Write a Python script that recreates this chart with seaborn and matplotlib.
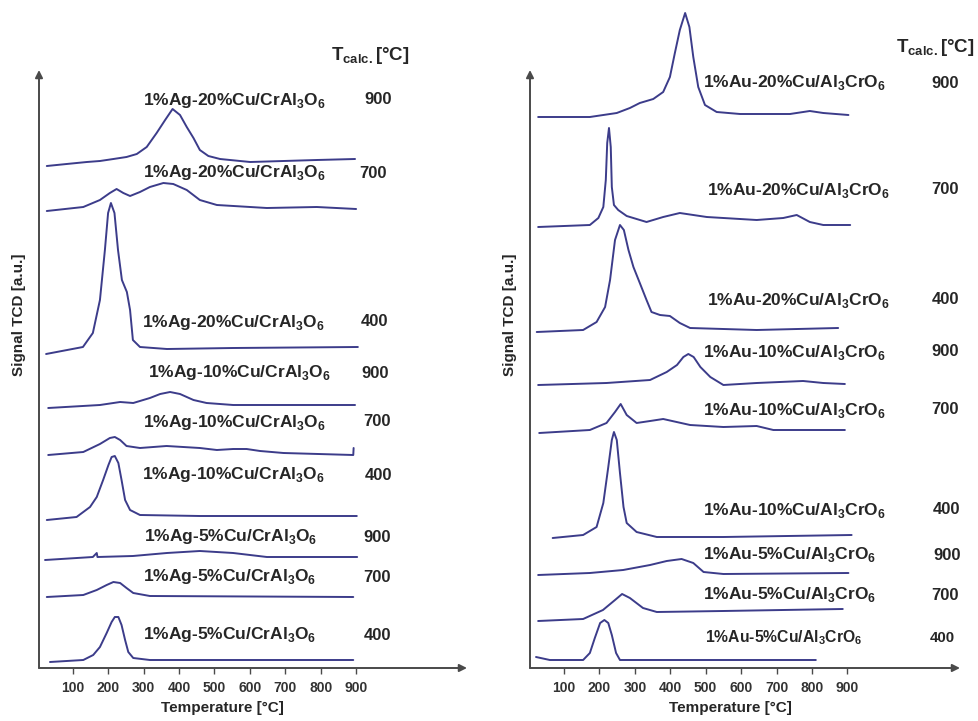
import pandas as pd
import seaborn as sns
import matplotlib.pyplot as plt

sns.set_style("white")
plt.rcParams['font.family'] = ['Liberation Sans', 'DejaVu Sans']
plt.rcParams['font.weight'] = 'bold'

LINE = '#3c3c8a'
AXC = '#4a4a4a'
TXT = '#262626'

# TPR profiles, temperature [°C] vs TCD signal [a.u.] (stacked)
ag_names = ['1%Ag-20%Cu/CrAl$_\\mathregular{3}$O$_\\mathregular{6}$'] * 3 + \
           ['1%Ag-10%Cu/CrAl$_\\mathregular{3}$O$_\\mathregular{6}$'] * 3 + \
           ['1%Ag-5%Cu/CrAl$_\\mathregular{3}$O$_\\mathregular{6}$'] * 3
ag_calc = ['900', '700', '400', '900', '700', '400', '900', '700', '400']
ag_T = [
    [27, 83, 140, 177, 215, 252, 281, 309, 337, 361, 382, 403, 422, 441, 459, 483, 516, 601, 695, 789, 897],
    [27, 130, 177, 205, 224, 243, 262, 290, 318, 356, 384, 422, 459, 507, 648, 789, 900],
    [25, 129, 157, 177, 191, 200, 208, 218, 228, 239, 253, 262, 270, 290, 366, 553, 905],
    [31, 177, 234, 271, 318, 347, 375, 403, 441, 478, 553, 897],
    [31, 130, 177, 205, 219, 234, 252, 290, 365, 459, 507, 553, 591, 629, 695, 892, 893],
    [27, 111, 149, 168, 186, 201, 210, 219, 229, 238, 248, 262, 290, 459, 902],
    [22, 157, 168, 170, 270, 366, 459, 553, 648, 903],
    [27, 130, 168, 196, 215, 234, 252, 271, 318, 892],
    [36, 130, 158, 177, 196, 210, 219, 229, 238, 248, 257, 271, 318, 892],
]
ag_S = [
    [502, 504, 506, 507, 509, 511, 514, 521, 535, 548, 559, 553, 541, 530, 518, 512, 509, 506, 507, 508, 509],
    [457, 461, 468, 475, 479, 475, 472, 476, 481, 485, 484, 478, 468, 463, 460, 461, 459],
    [314, 321, 335, 368, 418, 455, 465, 455, 418, 388, 376, 358, 328, 321, 319, 320, 321],
    [260, 263, 266, 265, 270, 274, 276, 274, 268, 265, 263, 263],
    [213, 216, 224, 230, 231, 228, 222, 220, 222, 220, 218, 219, 219, 217, 215, 213, 220],
    [148, 151, 161, 171, 188, 203, 211, 212, 205, 188, 168, 158, 153, 152, 152],
    [108, 111, 115, 111, 112, 115, 117, 115, 111, 111],
    [71, 73, 78, 83, 86, 85, 80, 75, 72, 71],
    [6, 8, 13, 21, 35, 46, 51, 51, 43, 28, 16, 10, 8, 8],
]

au_names = ['1%Au-20%Cu/Al$_\\mathregular{3}$CrO$_\\mathregular{6}$'] * 3 + \
           ['1%Au-10%Cu/Al$_\\mathregular{3}$CrO$_\\mathregular{6}$'] * 3 + \
           ['1%Au-5%Cu/Al$_\\mathregular{3}$CrO$_\\mathregular{6}$'] * 3
au_calc = ['900', '700', '400', '900', '700', '400', '900', '700', '400']
au_T = [
    [27, 173, 249, 286, 314, 352, 380, 399, 413, 427, 442, 454, 465, 479, 498, 531, 597, 738, 794, 832, 903],
    [27, 173, 197, 211, 218, 222, 227, 232, 235, 241, 253, 277, 333, 380, 427, 503, 644, 719, 757, 794, 832, 908],
    [23, 154, 192, 216, 230, 244, 258, 269, 282, 296, 314, 333, 347, 371, 399, 427, 456, 644, 874],
    [27, 220, 343, 390, 419, 437, 451, 466, 485, 513, 550, 644, 775, 832, 893],
    [30, 173, 220, 244, 260, 277, 305, 343, 380, 418, 456, 550, 644, 691, 893],
    [68, 154, 192, 211, 225, 235, 241, 249, 258, 268, 277, 305, 362, 550, 912],
    [27, 173, 267, 343, 390, 432, 465, 494, 550, 903],
    [27, 154, 210, 244, 264, 286, 323, 362, 549, 887],
    [21, 60, 154, 173, 187, 202, 214, 225, 235, 247, 258, 811],
]
au_S = [
    [551, 551, 555, 560, 565, 569, 576, 591, 615, 638, 655, 641, 611, 581, 563, 556, 554, 554, 557, 555, 553],
    [441, 443, 450, 461, 488, 525, 540, 521, 481, 463, 458, 452, 446, 451, 455, 451, 448, 450, 453, 446, 443, 443],
    [336, 338, 346, 361, 388, 428, 443, 438, 418, 401, 385, 368, 356, 353, 352, 345, 340, 338, 340],
    [283, 285, 288, 296, 303, 311, 314, 311, 301, 291, 283, 285, 287, 285, 284],
    [235, 238, 245, 256, 264, 253, 245, 247, 249, 246, 243, 241, 242, 238, 238],
    [130, 133, 141, 165, 201, 228, 236, 228, 195, 161, 145, 136, 131, 131, 133],
    [93, 95, 98, 103, 107, 109, 105, 96, 94, 95],
    [47, 49, 58, 68, 74, 70, 60, 56, 57, 59],
    [11, 8, 8, 15, 30, 45, 48, 45, 33, 15, 8, 8],
]

# where the sample names / calcination temperatures sit (data coords)
ag_lab_x = [299, 299, 296, 313, 299, 296, 301, 299, 299]
ag_lab_y = [568, 495, 346, 295, 246, 193, 131, 91, 33]
ag_num_x = [962, 948, 953, 953, 959, 962, 959, 959, 959]
au_lab_x = [492, 504, 504, 492, 492, 492, 492, 492, 498]
au_lab_y = [585, 478, 368, 316, 258, 158, 113, 73, 30]
au_num_x = [1176, 1176, 1176, 1176, 1176, 1181, 1181, 1176, 1167]


def to_frame(T, S):
    rows = []
    for i, (t, s) in enumerate(zip(T, S)):
        for a, b in zip(t, s):
            rows.append({'sample': i, 'T': a, 'signal': b})
    return pd.DataFrame(rows)


def draw_panel(ax, df, names, calc, lab_x, lab_y, num_x, xlim, head_x, head_y,
               xlab_x, small_last=False):
    sns.lineplot(data=df, x='T', y='signal', units='sample', estimator=None,
                 sort=False, color=LINE, lw=1.4, ax=ax, legend=False)
    for ln in ax.lines:
        ln.set_clip_on(False)
        ln.set_solid_joinstyle('round')
    ax.set_xlim(*xlim)
    ax.set_ylim(0, 598)
    ax.set_xticks(range(100, 1000, 100))
    ax.set_yticks([])
    for sp in ax.spines.values():
        sp.set_visible(False)
    ax.tick_params(axis='x', direction='out', length=4, width=1, color=AXC,
                   labelsize=10, labelcolor='#333333', pad=5, bottom=True)
    # axes with arrows
    ax.annotate('', xy=(0, 1), xytext=(0, 0), xycoords='axes fraction',
                arrowprops=dict(arrowstyle='-|>', color=AXC, lw=1.4, mutation_scale=11,
                                shrinkA=0, shrinkB=0))
    ax.annotate('', xy=(1, 0), xytext=(0, 0), xycoords='axes fraction',
                arrowprops=dict(arrowstyle='-|>', color=AXC, lw=1.4, mutation_scale=11,
                                shrinkA=0, shrinkB=0))
    for i in range(len(names)):
        fs = 12.5
        if small_last and i == len(names) - 1:
            fs = 11.3
        ax.text(lab_x[i], lab_y[i], names[i], ha='left', va='center', fontsize=fs,
                fontweight='bold', color=TXT, clip_on=False)
        ax.text(num_x[i], lab_y[i], calc[i], ha='center', va='center',
                fontsize=fs - 0.5, fontweight='bold', color=TXT, clip_on=False)
    ax.text(head_x, head_y, 'T$_\\mathregular{calc.}$[°C]', ha='center', va='center',
            fontsize=13.5, fontweight='bold', color=TXT, clip_on=False)
    ax.set_xlabel('Temperature [°C]', fontsize=11, fontweight='bold', color=TXT)
    ax.xaxis.set_label_coords(xlab_x, -0.056)
    ax.set_ylabel('Signal TCD [a.u.]', fontsize=11, fontweight='bold', color=TXT)
    ax.yaxis.set_label_coords(-0.03, 0.59)


fig = plt.figure(figsize=(9.79, 7.21), dpi=100)
ax1 = fig.add_axes([39 / 979, 53 / 721, 428 / 979, 598 / 721])
ax2 = fig.add_axes([530 / 979, 53 / 721, 430 / 979, 598 / 721])

draw_panel(ax1, to_frame(ag_T, ag_S), ag_names, ag_calc, ag_lab_x, ag_lab_y, ag_num_x,
           (5, 1213), 939, 613, 0.428)
draw_panel(ax2, to_frame(au_T, au_S), au_names, au_calc, au_lab_x, au_lab_y, au_num_x,
           (4, 1218), 1148, 620, 0.467, small_last=True)

fig.savefig('out.png', dpi=100)
